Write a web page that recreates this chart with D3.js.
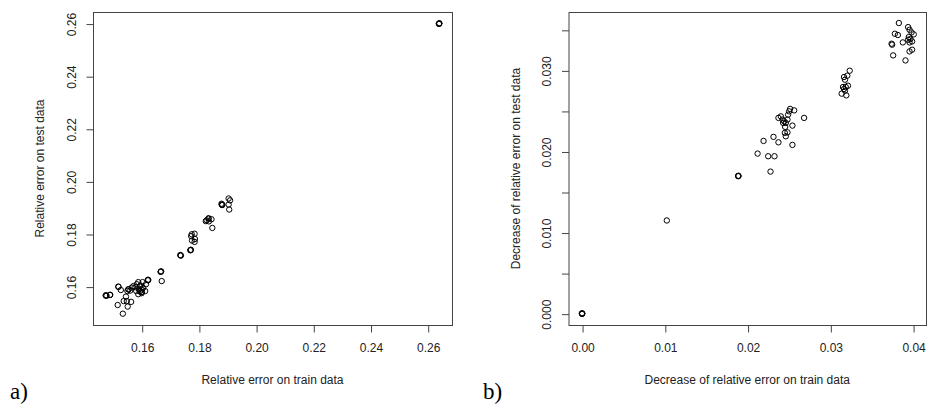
<!DOCTYPE html>
<html>
<head>
<meta charset="utf-8">
<script src="https://cdn.jsdelivr.net/npm/d3@7"></script>
<style>
  body { margin: 0; background: #fff; }
  svg { display: block; }
</style>
</head>
<body>
<svg id="chart" width="929" height="412"></svg>
<script>
// panel a) relative error, train vs test
const trainA = [0.2640, 0.2641, 0.2639, 0.2640,
  0.1475, 0.1477, 0.1474, 0.1489, 0.1490, 0.1518, 0.1519, 0.1527,
  0.1516, 0.1534, 0.1545, 0.1537, 0.1551, 0.1563, 0.1548,
  0.1553, 0.1554, 0.1565, 0.1571, 0.1583, 0.1588, 0.1594, 0.1600, 0.1594, 0.1612,
  0.1615, 0.1603, 0.1621, 0.1622, 0.1623, 0.1588, 0.1600, 0.1578, 0.1560, 0.1550,
  0.1581, 0.1590, 0.1598, 0.1605, 0.1596, 0.1601,
  0.1667, 0.1668, 0.1666, 0.1670, 0.1736, 0.1737, 0.1735, 0.1771, 0.1772, 0.1770,
  0.1775, 0.1785, 0.1773, 0.1786, 0.1776, 0.1785,
  0.1833, 0.1844, 0.1827, 0.1824, 0.1847, 0.1835, 0.1834,
  0.1880, 0.1881, 0.1882, 0.1904, 0.1909, 0.1906, 0.1904, 0.1879];
const testA = [0.2600, 0.2601, 0.2599, 0.2600,
  0.1567, 0.1565, 0.1566, 0.1568, 0.1569, 0.1600, 0.1599, 0.1587,
  0.1530, 0.1497, 0.1562, 0.1545, 0.1524, 0.1542, 0.1545,
  0.1590, 0.1589, 0.1596, 0.1602, 0.1609, 0.1617, 0.1602, 0.1590, 0.1583, 0.1583,
  0.1609, 0.1617, 0.1624, 0.1626, 0.1625, 0.1571, 0.1575, 0.1598, 0.1585, 0.1583,
  0.1583, 0.1590, 0.1578, 0.1595, 0.1604, 0.1580,
  0.1657, 0.1658, 0.1656, 0.1621, 0.1719, 0.1718, 0.1720, 0.1739, 0.1740, 0.1738,
  0.1799, 0.1801, 0.1792, 0.1781, 0.1775, 0.1770,
  0.1858, 0.1856, 0.1852, 0.1849, 0.1823, 0.1848, 0.1860,
  0.1912, 0.1910, 0.1911, 0.1935, 0.1928, 0.1893, 0.1912, 0.1915];
const ticksAx = [0.16, 0.18, 0.20, 0.22, 0.24, 0.26];
const ticksAy = [0.16, 0.18, 0.20, 0.22, 0.24, 0.26];

// panel b) decrease of relative error, train vs test
const trainB = [0, 0.00003, -0.00003, 0, 0.01888, 0.01890, 0.01886, 0.01024,
  0.02121, 0.02193, 0.02249, 0.02325, 0.02277, 0.02313, 0.02373, 0.02542,
  0.02450, 0.02462, 0.02482, 0.02373, 0.02402, 0.02422, 0.02442, 0.02462,
  0.02482, 0.02454, 0.02490, 0.02514, 0.02502, 0.02563, 0.02542, 0.02683, 0.02430,
  0.03234, 0.03165, 0.03205, 0.03177, 0.03153, 0.03186, 0.03213, 0.03165,
  0.03137, 0.03193, 0.03177,
  0.03828, 0.03780, 0.03816, 0.03740, 0.03747, 0.03759, 0.03908, 0.03876,
  0.03940, 0.03957, 0.04008, 0.03948, 0.03968, 0.03988, 0.03957, 0.03988,
  0.03957, 0.03940, 0.03981];
const testB = [0, 0.00003, 0.00003, -0.00003, 0.01695, 0.01700, 0.01698, 0.01149,
  0.01974, 0.02130, 0.01941, 0.01941, 0.01752, 0.02180, 0.02113, 0.02081,
  0.02229, 0.02187, 0.02236, 0.02414, 0.02433, 0.02393, 0.02372, 0.02352,
  0.02393, 0.02303, 0.02454, 0.02525, 0.02495, 0.02507, 0.02319, 0.02414, 0.02352,
  0.02996, 0.02918, 0.02935, 0.02885, 0.02795, 0.02795, 0.02811, 0.02771,
  0.02713, 0.02692, 0.02750,
  0.03584, 0.03452, 0.03436, 0.03329, 0.03317, 0.03185, 0.03123, 0.03345,
  0.03534, 0.03501, 0.03444, 0.03411, 0.03386, 0.03357, 0.03345, 0.03255,
  0.03234, 0.03378, 0.03468];
const ticksBx = [0.00, 0.01, 0.02, 0.03, 0.04];
const ticksBy = [0.000, 0.005, 0.010, 0.015, 0.020, 0.025, 0.030, 0.035];
const labelsBy = [0.000, 0.010, 0.020, 0.030];

const svg = d3.select("#chart");
const sans = "'Liberation Sans', Arial, sans-serif";

function panel(o) {
  const g = svg.append("g");
  const x = d3.scaleLinear().domain(o.xdom).range([o.left, o.right]);
  const y = d3.scaleLinear().domain(o.ydom).range([o.bottom, o.top]);

  g.append("rect")
    .attr("x", o.left + 0.5).attr("y", o.top + 0.5)
    .attr("width", o.right - o.left).attr("height", o.bottom - o.top)
    .attr("fill", "none").attr("stroke", "#444").attr("stroke-width", 1);

  const xa = d3.axisBottom(x).tickValues(o.xticks).tickSize(7).tickFormat(o.xfmt);
  const gx = g.append("g").attr("transform", `translate(0.5,${o.bottom + 0.5})`).call(xa);
  gx.select(".domain").remove();
  gx.selectAll("line").attr("stroke", "#444");
  gx.selectAll("text").attr("y", 18)
    .style("font-size", "12px").style("font-family", sans).style("fill", "#222");

  const ya = d3.axisLeft(y).tickValues(o.yticks).tickSize(7)
    .tickFormat(d => o.ylabels.some(v => Math.abs(v - d) < 1e-9) ? o.yfmt(d) : "");
  const gy = g.append("g").attr("transform", `translate(${o.left + 0.5},0.5)`).call(ya);
  gy.select(".domain").remove();
  gy.selectAll("line").attr("stroke", "#444");
  gy.selectAll("text")
    .attr("x", 0).attr("dy", 0)
    .attr("transform", `translate(${o.ylabx - o.left},0) rotate(-90)`)
    .attr("text-anchor", "middle").attr("dominant-baseline", "central")
    .style("font-size", "12px").style("font-family", sans).style("fill", "#222");

  g.selectAll("circle.pt")
    .data(o.xs.map((v, i) => [v, o.ys[i]]))
    .enter().append("circle")
    .attr("class", "pt")
    .attr("cx", d => x(d[0])).attr("cy", d => y(d[1]))
    .attr("r", 2.7)
    .attr("fill", "none").attr("stroke", "#000").attr("stroke-width", 1);

  g.append("text")
    .attr("x", (o.left + o.right) / 2).attr("y", 384)
    .attr("text-anchor", "middle")
    .style("font-size", "12px").style("font-family", sans).style("fill", "#222")
    .text(o.xtitle);

  g.append("text")
    .attr("transform", `translate(${o.ytitx},${(o.top + o.bottom) / 2}) rotate(-90)`)
    .attr("text-anchor", "middle").attr("dominant-baseline", "central")
    .style("font-size", "12px").style("font-family", sans).style("fill", "#222")
    .text(o.ytitle);

  g.append("text")
    .attr("x", o.tagx).attr("y", 399)
    .style("font-family", "'Liberation Serif', 'Times New Roman', serif")
    .style("font-size", "23px").style("fill", "#000")
    .text(o.tag);
}

panel({
  xs: trainA, ys: testA,
  xdom: [0.14297, 0.2685], ydom: [0.1454, 0.2644],
  left: 93, right: 452, top: 12, bottom: 325,
  xticks: ticksAx, yticks: ticksAy, ylabels: ticksAy,
  xfmt: d3.format(".2f"), yfmt: d3.format(".2f"),
  ylabx: 71.5, ytitx: 40,
  xtitle: "Relative error on train data",
  ytitle: "Relative error on test data",
  tag: "a)", tagx: 10
});

panel({
  xs: trainB, ys: testB,
  xdom: [-0.00164, 0.04156], ydom: [-0.0014, 0.0372],
  left: 568.5, right: 926, top: 12, bottom: 325,
  xticks: ticksBx, yticks: ticksBy, ylabels: labelsBy,
  xfmt: d3.format(".2f"), yfmt: d3.format(".3f"),
  ylabx: 546.5, ytitx: 516,
  xtitle: "Decrease of relative error on train data",
  ytitle: "Decrease of relative error on test data",
  tag: "b)", tagx: 483
});
</script>
</body>
</html>
